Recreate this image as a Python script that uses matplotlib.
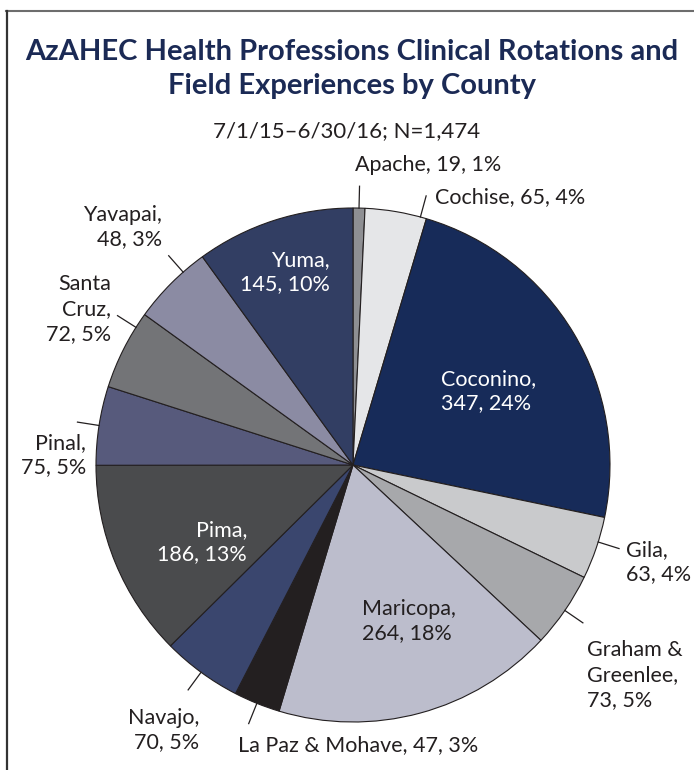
import matplotlib
matplotlib.use("Agg")
import matplotlib.pyplot as plt
import numpy as np
from matplotlib.lines import Line2D

# ---------------- data ----------------
counties = ["Apache", "Cochise", "Coconino", "Gila", "Graham &\nGreenlee", "Maricopa",
            "La Paz & Mohave", "Navajo", "Pima", "Pinal", "Santa\nCruz", "Yavapai", "Yuma"]
# counts printed in the labels
labeled_counts = [19, 65, 347, 63, 73, 264, 47, 70, 186, 75, 72, 48, 145]
# slice sizes as drawn in the picture (measured from the wedge angles)
drawn_sizes = [11, 57, 349, 58, 70, 261, 43, 74, 183, 73, 74, 75, 147]
total_n = 1474

colors = ["#8e8f93", "#e5e6e8", "#172b59", "#c9cacc", "#a7a8ab", "#bcbdcc",
          "#231f20", "#3a466e", "#4a4b4d", "#575a7c", "#737477", "#8b8ba3", "#323e63"]

title = "AzAHEC Health Professions Clinical Rotations and\nField Experiences by County"
subtitle = "7/1/15\u20136/30/16; N=1,474"

# ---------------- layout ----------------
W, H = 694, 770
FONT = ["Lato", "DejaVu Sans"]
# separator, text position (px), alignment, colour, leader position within wedge (None = no leader)
label_layout = [
    (" ",  355, 165, "left",  "#231f20", 0.5),
    (" ",  435, 197, "left",  "#231f20", 0.9),
    ("\n", 441, 391, "left",  "white",   None),
    ("\n", 626, 562, "left",  "#231f20", 0.4),
    ("\n", 587, 675, "left",  "#231f20", 0.5),
    ("\n", 362, 621, "left",  "#231f20", None),
    (" ",  238, 745, "left",  "#231f20", 0.5),
    ("\n", 199, 730, "right", "#231f20", 0.5),
    ("\n", 247, 542, "right", "white",   None),
    ("\n", 86,  455, "right", "#231f20", 0.5),
    ("\n", 111, 309, "right", "#231f20", 0.81),
    ("\n", 162, 227, "right", "#231f20", 0.7),
    ("\n", 330, 272, "right", "white",   None),
]

cx, cy, R = 353, 465, 257

fig = plt.figure(figsize=(W / 100, H / 100), dpi=100)
fig.patch.set_facecolor("white")

ax = fig.add_axes([(cx - R) / W, (H - cy - R) / H, 2 * R / W, 2 * R / H])
wedges, _ = ax.pie(drawn_sizes, colors=colors, startangle=90, counterclock=False,
                   radius=1.0,
                   wedgeprops=dict(edgecolor="#231f20", linewidth=0.8))
ax.set_xlim(-1, 1)
ax.set_ylim(-1, 1)
ax.set_aspect("equal")
ax.axis("off")

# labels
for name, cnt, w, (sep, x, y, ha, col, lf) in zip(counties, labeled_counts, wedges, label_layout):
    pct = int(round(cnt / total_n * 100))
    txt = f"{name},{sep}{cnt}, {pct}%"
    fig.text(x / W, 1 - y / H, txt, ha=ha, va="center", fontsize=15.5,
             color=col, family=FONT, linespacing=1.3, multialignment=ha)
    if lf is not None:
        ang = np.deg2rad(w.theta2 - lf * (w.theta2 - w.theta1))
        r0, r1 = 1.0, 1.085
        ax.plot([r0 * np.cos(ang), r1 * np.cos(ang)], [r0 * np.sin(ang), r1 * np.sin(ang)],
                color="#231f20", lw=0.9, clip_on=False)

# titles
fig.text(352 / W, 1 - 69 / H, title, ha="center", va="center", fontsize=21,
         fontweight="bold", color="#1b2a55", family=FONT, linespacing=1.38)
fig.text(347 / W, 1 - 131 / H, subtitle, ha="center", va="center", fontsize=16,
         color="#231f20", family=FONT)

# frame
fig.add_artist(Line2D([6 / W, 694 / W], [1 - 11 / H, 1 - 11 / H], color="#6d6d6d", lw=1.5))
fig.add_artist(Line2D([7 / W, 7 / W], [1 - 11 / H, 0], color="#333333", lw=1.6))

fig.savefig("out.png", dpi=100)
